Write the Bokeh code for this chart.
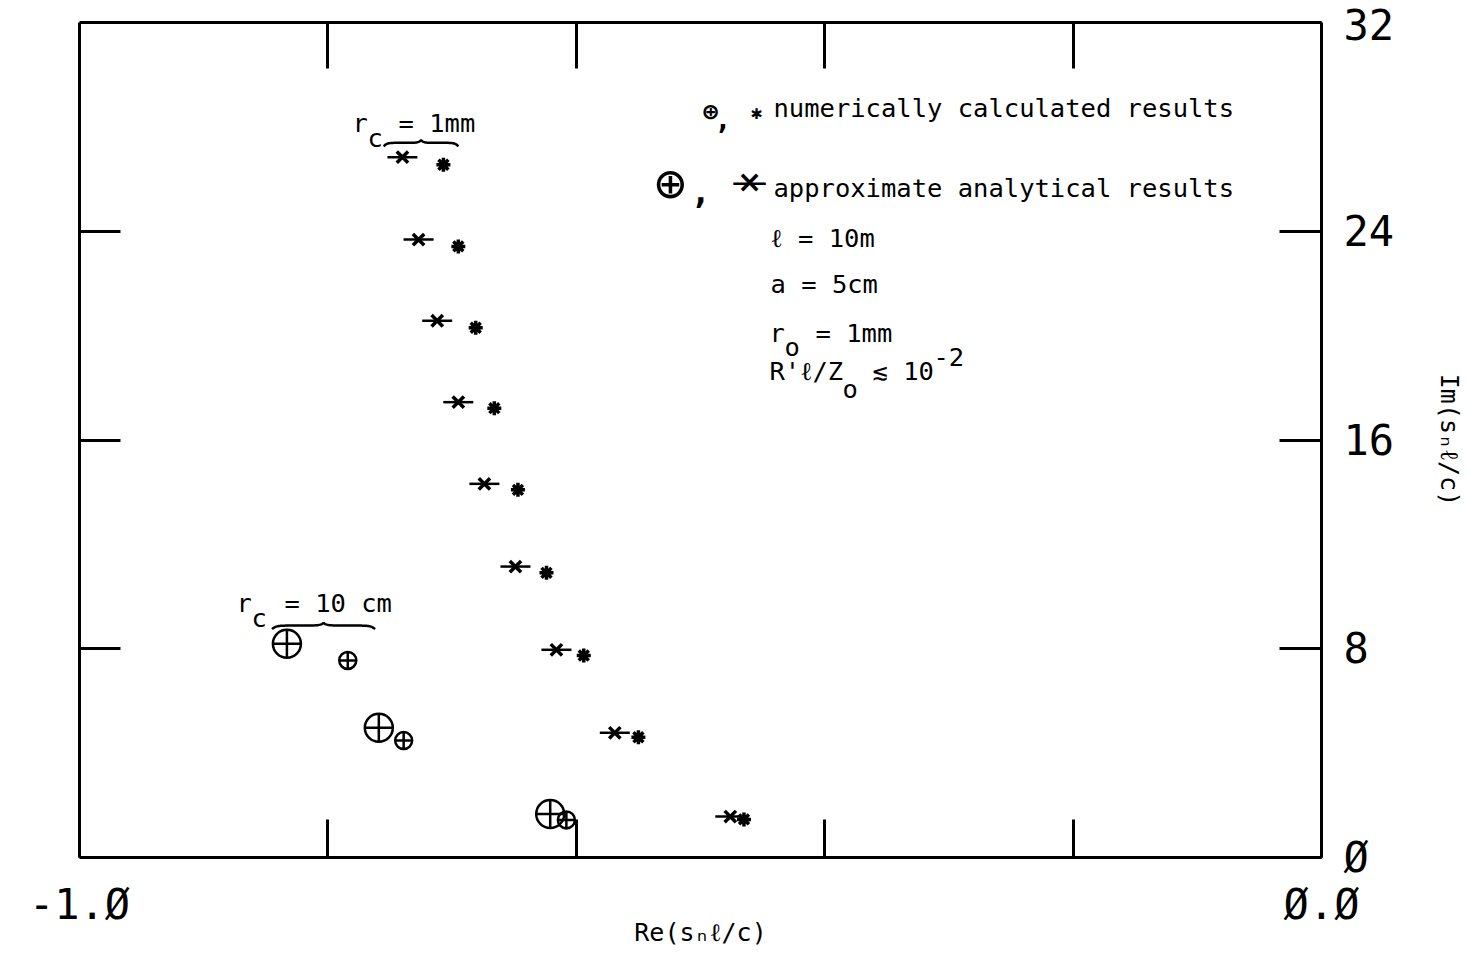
import numpy as np
from bokeh.plotting import figure
from bokeh.models import Range1d, LinearAxis, FixedTicker, Label, ColumnDataSource
from bokeh.embed import file_html
from bokeh.resources import INLINE

# ---------------- data ----------------
# r_c = 1 mm : approximate analytical results (large asterisks)
ana_1mm_re = [-0.740, -0.727, -0.712, -0.695, -0.674, -0.649, -0.616, -0.569, -0.476]
ana_1mm_im = [26.84, 23.68, 20.57, 17.45, 14.32, 11.15, 7.96, 4.78, 1.57]
# r_c = 1 mm : numerically calculated results (small asterisks)
num_1mm_re = [-0.707, -0.695, -0.681, -0.666, -0.647, -0.624, -0.594, -0.550, -0.465]
num_1mm_im = [26.55, 23.42, 20.30, 17.22, 14.09, 10.91, 7.74, 4.61, 1.46]
# r_c = 10 cm : approximate analytical results (large circled plus)
ana_10cm_re = [-0.833, -0.759, -0.621]
ana_10cm_im = [8.19, 4.97, 1.67]
# r_c = 10 cm : numerically calculated results (small circled plus)
num_10cm_re = [-0.784, -0.739, -0.608]
num_10cm_im = [7.55, 4.48, 1.44]

x_ticks = [-1.0, -0.8, -0.6, -0.4, -0.2, 0.0]
x_tick_labels = ["-1.Ø", "", "", "", "", "Ø.Ø"]
top_ticks = [-0.8, -0.6, -0.4, -0.2]
y_ticks = [0, 8, 16, 24, 32]
y_tick_labels = ["Ø", "8", "16", "24", "32"]
left_ticks = [8, 16, 24]

x_title = "Re(sₙℓ/c)"
y_title = "Im(sₙℓ/c)"

# ---------------- layout ----------------
W, H = 1468, 954
FRAME_L, FRAME_R, FRAME_T, FRAME_B = 79, 1321, 22, 857
X0, X1, Y0, Y1 = -1.0, 0.0, 0.0, 32.0
MONO = "DejaVu Sans Mono"
SANS = "DejaVu Sans"


def px2x(sx):
    return X0 + (sx - FRAME_L) / (FRAME_R - FRAME_L) * (X1 - X0)


def px2y(sy):
    return Y0 + (FRAME_B - sy) / (FRAME_B - FRAME_T) * (Y1 - Y0)


p = figure(width=W, height=H, x_range=Range1d(X0, X1), y_range=Range1d(Y0, Y1),
           output_backend="svg", toolbar_location=None,
           min_border_left=FRAME_L, min_border_right=W - FRAME_R,
           min_border_top=FRAME_T, min_border_bottom=H - FRAME_B,
           background_fill_color="white", border_fill_color="white")
p.xgrid.grid_line_color = None
p.ygrid.grid_line_color = None
p.outline_line_color = None


def style_axis(ax, ticks, labels, tick_in, font_size, standoff):
    ax.ticker = FixedTicker(ticks=ticks)
    ax.major_label_overrides = dict(zip(ticks, labels))
    ax.major_tick_in = tick_in
    ax.major_tick_out = 0
    ax.minor_tick_in = 0
    ax.minor_tick_out = 0
    ax.axis_line_width = 3
    ax.axis_line_color = "black"
    ax.major_tick_line_width = 3
    ax.major_tick_line_color = "black"
    ax.major_label_text_font = MONO
    ax.major_label_text_font_size = font_size
    ax.major_label_text_color = "black"
    ax.major_label_standoff = standoff


bottom = p.xaxis[0]
style_axis(bottom, x_ticks, x_tick_labels, 38, "42px", 22)
bottom.axis_label = x_title
bottom.axis_label_text_font = MONO
bottom.axis_label_text_font_size = "25px"
bottom.axis_label_text_font_style = "normal"
bottom.axis_label_text_color = "black"
bottom.axis_label_standoff = -14

style_axis(p.yaxis[0], left_ticks, ["" for _ in left_ticks], 41, "1px", 0)

top_axis = LinearAxis()
style_axis(top_axis, top_ticks, ["" for _ in top_ticks], 46, "1px", 0)
p.add_layout(top_axis, "above")

right_axis = LinearAxis()
style_axis(right_axis, y_ticks, y_tick_labels, 42, "42px", 22)
right_axis.axis_label = y_title
right_axis.axis_label_text_font = MONO
right_axis.axis_label_text_font_size = "25px"
right_axis.axis_label_text_font_style = "normal"
right_axis.axis_label_text_color = "black"
right_axis.axis_label_standoff = 38
p.add_layout(right_axis, "right")

# ---------------- data marks ----------------
s_ana1 = ColumnDataSource(dict(x=ana_1mm_re, y=ana_1mm_im))
s_num1 = ColumnDataSource(dict(x=num_1mm_re, y=num_1mm_im))
s_ana10 = ColumnDataSource(dict(x=ana_10cm_re, y=ana_10cm_im))
s_num10 = ColumnDataSource(dict(x=num_10cm_re, y=num_10cm_im))

p.scatter("x", "y", source=s_ana1, marker="x", size=16, line_width=3.5, line_color="black")
p.scatter("x", "y", source=s_ana1, marker="dash", size=30, line_width=2.5, line_color="black")
p.scatter("x", "y", source=s_num1, marker="asterisk", size=14, line_width=3.5, line_color="black")
p.scatter("x", "y", source=s_ana10, marker="circle_cross", size=28, line_width=2.5,
          line_color="black", fill_color=None)
p.scatter("x", "y", source=s_num10, marker="circle_cross", size=17, line_width=2.5,
          line_color="black", fill_color=None)


# ---------------- braces (over the top pair of each group) ----------------
def brace(x_left, x_right, y_base, drop, peak):
    t = np.linspace(0.0, 1.0, 121)
    u = np.abs(2 * t - 1)
    yy = y_base - drop * np.exp(-(1 - u) / 0.07) + peak * np.exp(-u / 0.06)
    xx = x_left + t * (x_right - x_left)
    return xx, yy


bx, by = brace(min(ana_1mm_re[0], num_1mm_re[0]) - 0.015,
               max(ana_1mm_re[0], num_1mm_re[0]) + 0.012,
               max(ana_1mm_im[0], num_1mm_im[0]) + 0.55, 0.14, 0.10)
p.line(bx, by, line_width=2.5, line_color="black")
bx2, by2 = brace(min(ana_10cm_re[0], num_10cm_re[0]) - 0.012,
                 max(ana_10cm_re[0], num_10cm_re[0]) + 0.022,
                 max(ana_10cm_im[0], num_10cm_im[0]) + 0.70, 0.14, 0.10)
p.line(bx2, by2, line_width=2.5, line_color="black")


# ---------------- texts ----------------
def add_text(text, sx, sy, size, align="left", baseline="alphabetic", angle=0.0,
             style="normal", font=MONO):
    p.add_layout(Label(x=px2x(sx), y=px2y(sy), text=text, text_font=font,
                       text_font_size=f"{size}px", text_align=align,
                       text_baseline=baseline, angle=angle, text_color="black",
                       text_font_style=style))


FS = 25.5
# r_c = 1mm
add_text("r", 352, 122, FS)
add_text("c", 367, 137, FS)
add_text("= 1mm", 398, 122, FS)
# r_c = 10 cm
add_text("r", 236, 602, FS)
add_text("c", 251, 617, FS)
add_text("= 10 cm", 284, 602, FS)

# legend
add_text("⊕", 710, 111, 25, align="center", baseline="middle", style="bold")
add_text(",", 714, 118, 28, style="bold")
add_text("✱", 756, 111, 19, align="center", baseline="middle")
add_text("numerically calculated results", 773, 107, FS)

add_text("⊕", 670, 182, 52, align="center", baseline="middle")
add_text(",", 690, 190, 34, style="bold")
add_text("×", 749, 181, 30, align="center", font=SANS, style="bold")
add_text("—", 749, 181, 36, align="center", font=SANS)
add_text("approximate analytical results", 773, 187, FS)

# parameters
add_text("ℓ = 10m", 770, 237, FS)
add_text("a = 5cm", 770, 283, FS)
add_text("r", 769, 332, FS)
add_text("o", 784, 346, FS)
add_text("= 1mm", 815, 332, FS)
add_text("R'ℓ/Z", 769, 370, FS)
add_text("o", 842, 388, FS)
add_text("≲ 10", 872, 370, FS)
add_text("-2", 933, 356, FS)

open("out.html", "w").write(file_html(p, INLINE))
